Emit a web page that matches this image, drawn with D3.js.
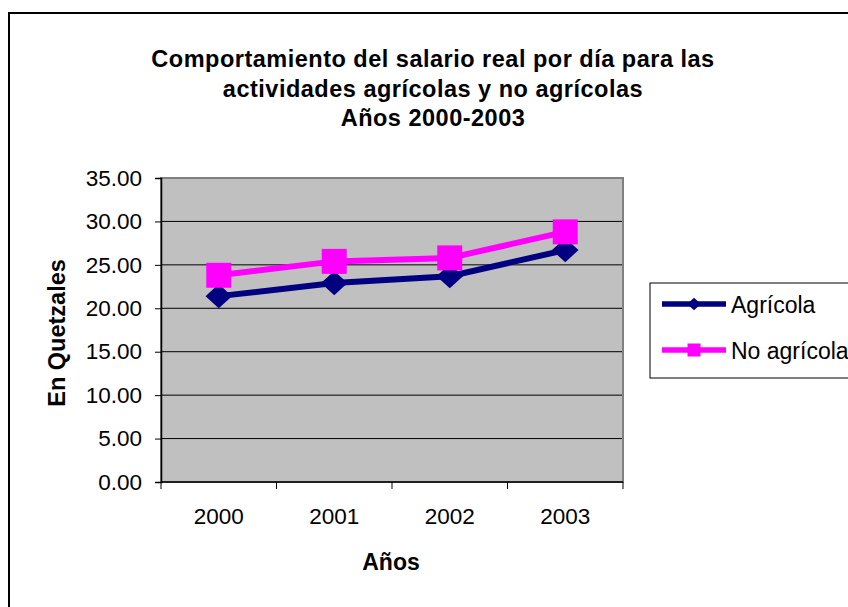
<html>
<head>
<script src="https://cdn.jsdelivr.net/npm/d3@7"></script>
<style>
  * { margin: 0; padding: 0; }
  body { background: white; font-family: "Liberation Sans", Arial, sans-serif; }
</style>
</head>
<body>
<div id="chart"></div>
<script>
const years = ["2000", "2001", "2002", "2003"];
const agricola = [21.4, 22.9, 23.7, 26.7];
const noAgricola = [23.8, 25.4, 25.8, 28.8];
const yTicks = [0, 5, 10, 15, 20, 25, 30, 35];
const titleLines = [
  "Comportamiento del salario real por día para las",
  "actividades agrícolas y no agrícolas",
  "Años 2000-2003"
];

const w = 848, h = 607;
const plot = { left: 161, right: 623, top: 178, bottom: 482 };

const svg = d3.select("#chart").append("svg")
  .attr("width", w).attr("height", h);

// outer chart border (runs off the right and bottom edges)
svg.append("rect")
  .attr("x", 9).attr("y", 13)
  .attr("width", 860).attr("height", 620)
  .attr("fill", "white").attr("stroke", "black").attr("stroke-width", 2);

// title
svg.append("g").selectAll("text").data(titleLines).enter().append("text")
  .attr("x", 433).attr("y", (d, i) => 67 + i * 29.5)
  .attr("text-anchor", "middle")
  .attr("font-size", 23.5).attr("font-weight", "bold")
  .attr("letter-spacing", 0.5)
  .text(d => d);

const x = d3.scaleBand().domain(years).range([plot.left, plot.right]);
const y = d3.scaleLinear().domain([0, 35]).range([plot.bottom, plot.top]);

// plot background
svg.append("rect")
  .attr("x", plot.left).attr("y", plot.top)
  .attr("width", plot.right - plot.left).attr("height", plot.bottom - plot.top)
  .attr("fill", "#c0c0c0");

// gridlines
svg.append("g").selectAll("line").data(yTicks.slice(1, -1)).enter().append("line")
  .attr("x1", plot.left).attr("x2", plot.right)
  .attr("y1", d => y(d)).attr("y2", d => y(d))
  .attr("stroke", "black").attr("stroke-width", 1);

svg.append("rect")
  .attr("x", plot.left).attr("y", plot.top)
  .attr("width", plot.right - plot.left).attr("height", plot.bottom - plot.top)
  .attr("fill", "none").attr("stroke", "#808080").attr("stroke-width", 2);

// y axis
const yAxis = d3.axisLeft(y).tickValues(yTicks).tickFormat(d3.format(".2f"))
  .tickSize(6).tickPadding(13);
const gy = svg.append("g").attr("transform", `translate(${plot.left},0)`).call(yAxis);
gy.select(".domain").attr("stroke", "black").attr("stroke-width", 1.5);
gy.selectAll(".tick line").attr("stroke", "black");
gy.selectAll("text").attr("font-size", 22.5)
  .attr("font-family", "Liberation Sans, Arial, sans-serif").attr("fill", "black");

// x axis
const gx = svg.append("g").attr("transform", `translate(0,${plot.bottom})`);
gx.append("line").attr("x1", plot.left).attr("x2", plot.right)
  .attr("y1", 0).attr("y2", 0).attr("stroke", "black").attr("stroke-width", 1.5);
const xEdges = years.map(d => x(d)).concat([x(years[years.length - 1]) + x.bandwidth()]);
gx.selectAll(".xt").data(xEdges).enter().append("line")
  .attr("x1", d => d).attr("x2", d => d).attr("y1", 0).attr("y2", 7)
  .attr("stroke", "black");
gx.selectAll(".xl").data(years).enter().append("text")
  .attr("x", d => x(d) + x.bandwidth() / 2).attr("y", 42)
  .attr("text-anchor", "middle").attr("font-size", 22.5)
  .text(d => d);

// axis titles
svg.append("text").attr("x", 391).attr("y", 570)
  .attr("text-anchor", "middle").attr("font-size", 23).attr("font-weight", "bold")
  .text("Años");
svg.append("text")
  .attr("transform", "translate(65,333) rotate(-90)")
  .attr("text-anchor", "middle").attr("font-size", 23.5).attr("font-weight", "bold")
  .text("En Quetzales");

// series
const series = [
  { name: "Agrícola", values: agricola, color: "#000080", marker: "diamond" },
  { name: "No agrícola", values: noAgricola, color: "#ff00ff", marker: "square" }
];
const cx = d => x(d) + x.bandwidth() / 2;
const line = d3.line().x((d, i) => cx(years[i])).y(d => y(d));

function drawMarker(g, type, color, size) {
  if (type === "square") {
    g.append("rect").attr("x", -size / 2).attr("y", -size / 2)
      .attr("width", size).attr("height", size).attr("fill", color);
  } else {
    const s = size * 0.53;
    g.append("path").attr("d", `M0,${-s * 0.92}L${s},0L0,${s * 0.92}L${-s},0Z`).attr("fill", color);
  }
}

series.forEach(s => {
  svg.append("path").datum(s.values).attr("d", line)
    .attr("fill", "none").attr("stroke", s.color).attr("stroke-width", 6);
  s.values.forEach((v, i) => {
    const g = svg.append("g").attr("transform", `translate(${cx(years[i])},${y(v)})`);
    drawMarker(g, s.marker, s.color, 25);
  });
});

// legend
const lg = svg.append("g");
lg.append("rect").attr("x", 650).attr("y", 283).attr("width", 210).attr("height", 95)
  .attr("fill", "white").attr("stroke", "black").attr("stroke-width", 1);
series.forEach((s, i) => {
  const ly = 304 + i * 46;
  lg.append("line").attr("x1", 662).attr("x2", 726).attr("y1", ly).attr("y2", ly)
    .attr("stroke", s.color).attr("stroke-width", 5.5);
  const g = lg.append("g").attr("transform", `translate(694,${ly})`);
  drawMarker(g, s.marker, s.color, 13);
  lg.append("text").attr("x", 731).attr("y", ly + 8.5).attr("font-size", 23)
    .text(s.name);
});
</script>
</body>
</html>
